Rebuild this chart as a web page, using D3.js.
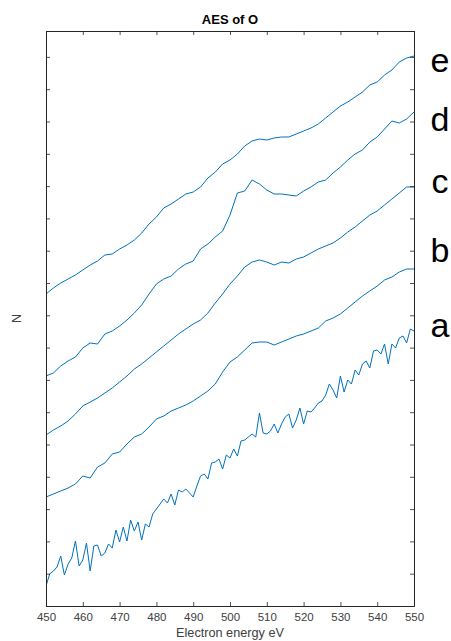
<!DOCTYPE html>
<html>
<head>
<meta charset="utf-8">
<script src="https://cdn.jsdelivr.net/npm/d3@7"></script>
<style>
  html, body { margin: 0; padding: 0; background: #fff; }
  svg { display: block; font-family: "Liberation Sans", Arial, Helvetica, sans-serif; }
</style>
</head>
<body>
<svg id="chart" width="451" height="641"></svg>
<script>
// Auger electron spectra of oxygen, five samples stacked with vertical offsets (arbitrary units)
const energyFine = d3.range(450, 551, 1);    // eV, sampling of spectrum a
const energyCoarse = d3.range(450, 551, 2);  // eV, sampling of spectra b-e

const spectrumA = [
  20, 32, 35, 39, 50, 31, 42, 48, 65, 40,
  46, 63, 35, 60, 61, 50, 53, 62, 58, 76,
  64, 79, 65, 86, 75, 84, 66, 82, 79, 92,
  97, 102, 107, 103, 112, 101, 116, 114, 117, 113,
  109, 120, 130, 132, 127, 143, 144, 147, 137, 151,
  148, 157, 150, 165, 166, 169, 172, 169, 193, 173,
  172, 175, 182, 173, 182, 189, 192, 178, 186, 198,
  182, 195, 194, 198, 203, 205, 211, 222, 216, 208,
  230, 214, 226, 222, 236, 231, 242, 245, 238, 255,
  256, 252, 262, 242, 262, 258, 268, 270, 263, 277,
  275
];
const spectrumB = [
  109, 112, 115, 118, 122, 130, 128, 139, 143, 152,
  154, 162, 169, 172, 179, 187, 190, 195, 198, 201,
  205, 210, 215, 222, 234, 244, 249, 256, 263, 264,
  264, 261, 264, 267, 270, 272, 275, 278, 285, 288,
  292, 298, 304, 310, 315, 320, 326, 329, 334, 337,
  337
];
const spectrumC = [
  171, 176, 180, 185, 192, 200, 204, 208, 213, 218,
  224, 230, 237, 242, 248, 254, 260, 266, 272, 277,
  282, 286, 293, 303, 312, 322, 330, 339, 344, 346,
  344, 341, 344, 343, 347, 349, 353, 357, 360, 363,
  368, 374, 379, 385, 391, 395, 401, 407, 413, 419,
  419
];
const spectrumD = [
  230, 233, 240, 245, 249, 258, 263, 262, 272, 275,
  280, 286, 293, 301, 312, 322, 327, 330, 337, 342,
  345, 357, 362, 369, 375, 391, 413, 415, 426, 422,
  416, 412, 412, 411, 410, 415, 419, 424, 426, 433,
  439, 446, 452, 456, 464, 469, 477, 485, 483, 487,
  494
];
const spectrumE = [
  312, 318, 323, 327, 331, 336, 341, 345, 351, 352,
  357, 361, 366, 373, 382, 389, 398, 402, 407, 412,
  414, 419, 428, 434, 442, 446, 452, 460, 465, 467,
  466, 468, 469, 469, 472, 475, 478, 482, 488, 494,
  500, 504, 509, 514, 521, 524, 531, 536, 544, 548,
  550
];

const seriesLabels = ["a", "b", "c", "d", "e"];
const seriesLabelLevels = [269, 344, 413, 475, 534];  // baseline of each tag on the N scale

const xTickValues = [450, 460, 470, 480, 490, 500, 510, 520, 530, 540, 550];
const yStep = 32.3;
const yTickValues = d3.range(0, 560, yStep);

const titleText = "AES of O";
const xLabelText = "Electron energy eV";
const yLabelText = "N";

// ---- layout ----
const W = 451, H = 641;
const margin = { top: 31, right: 37, bottom: 35, left: 46 };
const innerW = W - margin.left - margin.right;
const innerH = H - margin.top - margin.bottom;

const svg = d3.select("#chart");
svg.append("rect").attr("width", W).attr("height", H).attr("fill", "#fff");

const x = d3.scaleLinear().domain([450, 550]).range([margin.left, margin.left + innerW]);
const y = d3.scaleLinear().domain([0, 575]).range([margin.top + innerH, margin.top]);

svg.append("clipPath").attr("id", "plotclip")
  .append("rect")
  .attr("x", margin.left).attr("y", margin.top)
  .attr("width", innerW).attr("height", innerH);

const series = [
  { name: "a", xs: energyFine, ys: spectrumA },
  { name: "b", xs: energyCoarse, ys: spectrumB },
  { name: "c", xs: energyCoarse, ys: spectrumC },
  { name: "d", xs: energyCoarse, ys: spectrumD },
  { name: "e", xs: energyCoarse, ys: spectrumE }
];

const line = d3.line()
  .x(d => x(d[0]))
  .y(d => y(d[1]));

const lines = svg.append("g").attr("clip-path", "url(#plotclip)");
series.forEach(s => {
  lines.append("path")
    .datum(s.xs.map((e, i) => [e, s.ys[i]]))
    .attr("fill", "none")
    .attr("stroke", "#0072BD")
    .attr("stroke-width", 1)
    .attr("stroke-linejoin", "round")
    .attr("d", line);
});

// ---- axes (inward ticks on all four sides, box outline) ----
const axisColor = "#262626";
const tickLen = 4;

const gBottom = svg.append("g")
  .attr("transform", `translate(0,${margin.top + innerH})`)
  .call(d3.axisBottom(x).tickValues(xTickValues).tickSize(-tickLen).tickPadding(7).tickFormat(d3.format("d")));
const gTop = svg.append("g")
  .attr("transform", `translate(0,${margin.top})`)
  .call(d3.axisTop(x).tickValues(xTickValues).tickSize(-tickLen).tickFormat(""));
const gLeft = svg.append("g")
  .attr("transform", `translate(${margin.left},0)`)
  .call(d3.axisLeft(y).tickValues(yTickValues).tickSize(-tickLen).tickFormat(""));
const gRight = svg.append("g")
  .attr("transform", `translate(${margin.left + innerW},0)`)
  .call(d3.axisRight(y).tickValues(yTickValues).tickSize(-tickLen).tickFormat(""));

[gBottom, gTop, gLeft, gRight].forEach(g => {
  g.select(".domain").attr("stroke", axisColor).attr("stroke-width", 1);
  g.selectAll(".tick line").attr("stroke", axisColor).attr("stroke-width", 0.8);
});
gBottom.selectAll(".tick text")
  .attr("fill", "#404040")
  .attr("font-size", "11.5px")
  .attr("font-family", "'Liberation Sans', Arial, sans-serif");

// ---- titles and labels ----
svg.append("text")
  .attr("x", margin.left + innerW / 2)
  .attr("y", 24)
  .attr("text-anchor", "middle")
  .attr("font-size", "13px")
  .attr("font-weight", "bold")
  .attr("fill", "#000")
  .text(titleText);

svg.append("text")
  .attr("x", margin.left + innerW / 2)
  .attr("y", 636.5)
  .attr("text-anchor", "middle")
  .attr("font-size", "12.7px")
  .attr("fill", "#404040")
  .text(xLabelText);

svg.append("text")
  .attr("transform", `translate(20.5,${margin.top + innerH / 2}) rotate(-90)`)
  .attr("text-anchor", "middle")
  .attr("font-size", "12.7px")
  .attr("fill", "#404040")
  .text(yLabelText);

// curve tags to the right of the plot box
svg.append("g").selectAll("text")
  .data(seriesLabels)
  .join("text")
  .attr("x", 440)
  .attr("y", (d, i) => y(seriesLabelLevels[i]))
  .attr("text-anchor", "middle")
  .attr("font-size", "34px")
  .attr("fill", "#000")
  .text(d => d);
</script>
</body>
</html>
